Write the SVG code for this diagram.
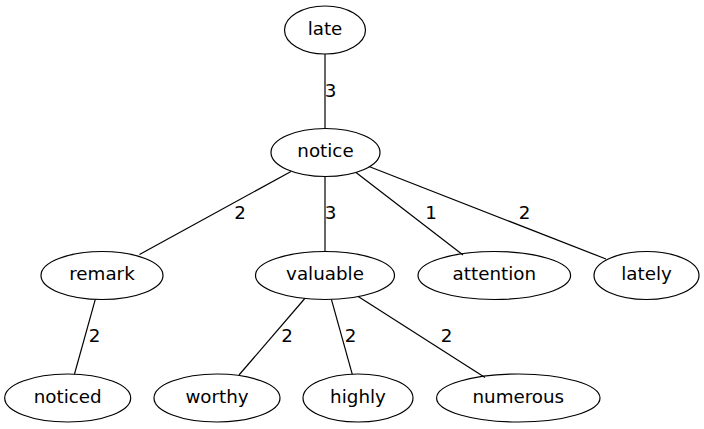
<svg xmlns="http://www.w3.org/2000/svg" width="704" height="429" viewBox="0 0 704 429">
<style>
.n ellipse{fill:none;stroke:#000;stroke-width:1.2}
text{font-family:"DejaVu Sans",sans-serif;font-size:18.3px;fill:#000;text-anchor:middle}
.e line{stroke:#000;stroke-width:1.2}
</style>
<rect width="704" height="429" fill="#fff"/>
<g class="e" id="edges">
<line x1="325" y1="54" x2="325" y2="128.5"/>
<line x1="291" y1="171.5" x2="139.5" y2="254.5"/>
<line x1="325" y1="176.5" x2="325" y2="251.5"/>
<line x1="356" y1="172.5" x2="463" y2="255"/>
<line x1="369" y1="166.5" x2="606" y2="259"/>
<line x1="95.3" y1="299.4" x2="74.5" y2="374"/>
<line x1="304.8" y1="298.5" x2="239" y2="375"/>
<line x1="331.4" y1="299.4" x2="352.3" y2="374.3"/>
<line x1="358.2" y1="296.6" x2="485" y2="377.5"/>
<text x="330.5" y="97">3</text>
<text x="240" y="219">2</text>
<text x="330.5" y="219">3</text>
<text x="431" y="219">1</text>
<text x="524.5" y="219">2</text>
<text x="94.5" y="342">2</text>
<text x="287" y="342">2</text>
<text x="350.5" y="342">2</text>
<text x="446.5" y="342">2</text>
</g>
<g class="n" id="late"><ellipse cx="325" cy="30" rx="40.5" ry="24"/><text x="325" y="34.8">late</text></g>
<g class="n" id="notice"><ellipse cx="325.5" cy="152.5" rx="54.5" ry="24"/><text x="325.5" y="157.3">notice</text></g>
<g class="n" id="remark"><ellipse cx="102" cy="275.5" rx="61" ry="24"/><text x="102" y="280.3">remark</text></g>
<g class="n" id="valuable"><ellipse cx="325" cy="275.5" rx="69.5" ry="24"/><text x="325" y="280.3">valuable</text></g>
<g class="n" id="attention"><ellipse cx="494.3" cy="275.5" rx="76.3" ry="24"/><text x="494.3" y="280.3">attention</text></g>
<g class="n" id="lately"><ellipse cx="646.5" cy="275.5" rx="52.5" ry="24"/><text x="646.5" y="280.3">lately</text></g>
<g class="n" id="noticed"><ellipse cx="67.7" cy="398" rx="63" ry="24"/><text x="67.7" y="402.5">noticed</text></g>
<g class="n" id="worthy"><ellipse cx="217" cy="398" rx="63" ry="24"/><text x="217" y="402.5">worthy</text></g>
<g class="n" id="highly"><ellipse cx="358" cy="398" rx="55" ry="24"/><text x="358" y="402.5">highly</text></g>
<g class="n" id="numerous"><ellipse cx="518.3" cy="398" rx="81.7" ry="24"/><text x="518.3" y="402.5">numerous</text></g>
</svg>
